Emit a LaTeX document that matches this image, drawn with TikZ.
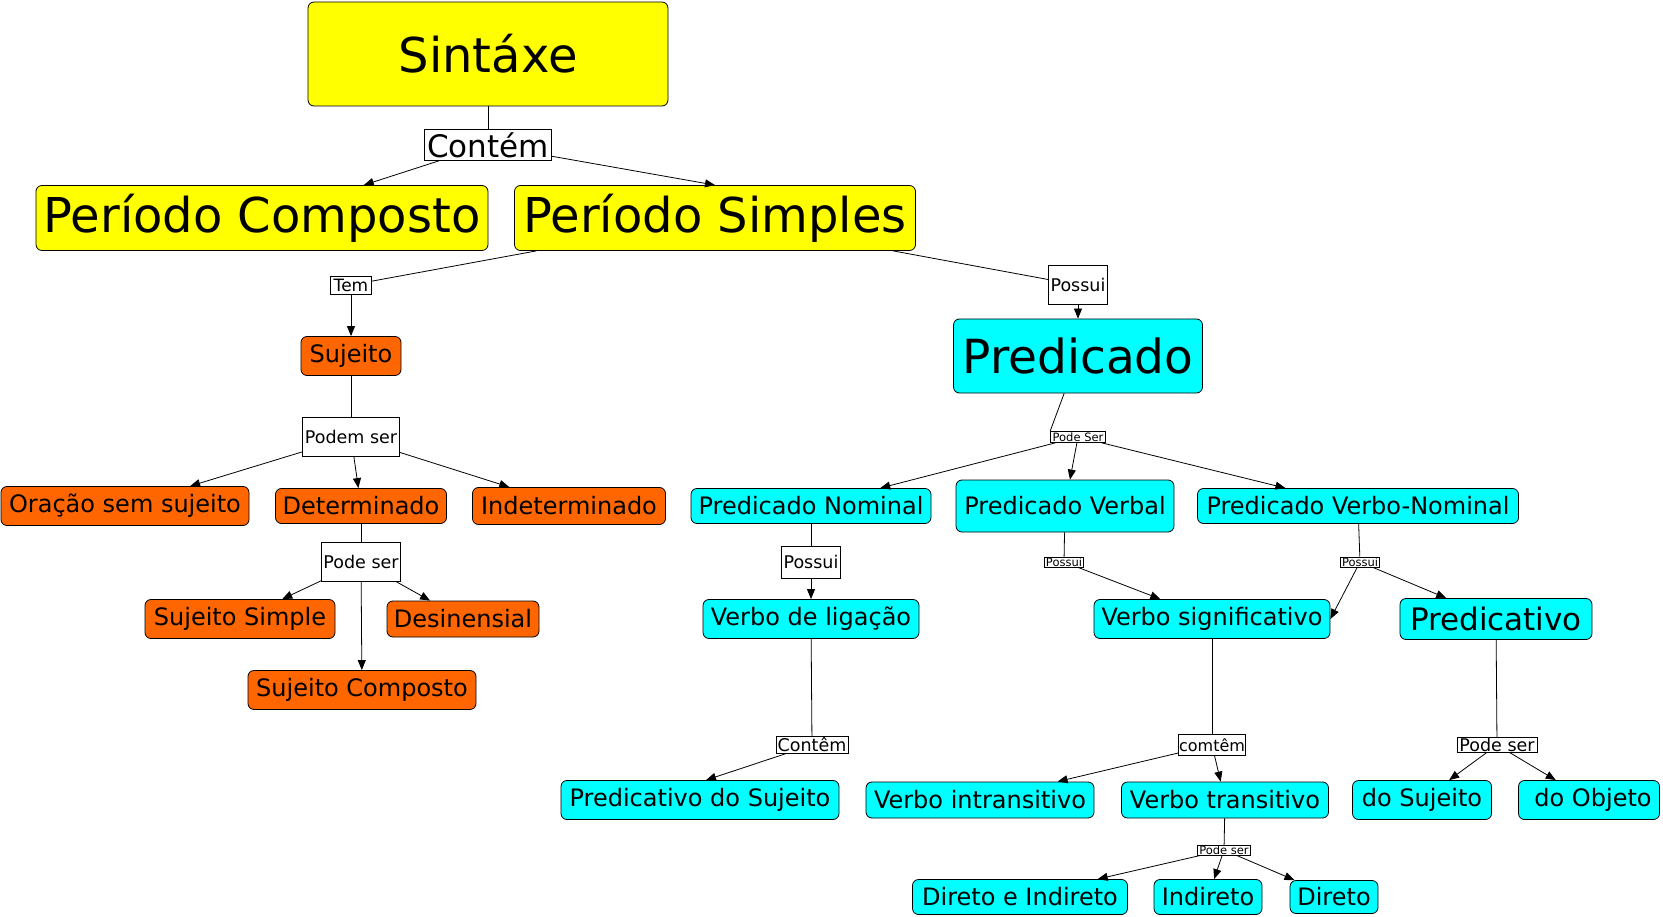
\documentclass[tikz,border=0pt]{standalone}
\usepackage{fontspec}
\setmainfont{DejaVu Sans}
\usetikzlibrary{arrows.meta}
\definecolor{orng}{HTML}{FF6600}
\definecolor{cyn}{HTML}{00FFFF}
\definecolor{yel}{HTML}{FFFF00}
\newcommand\setfs[1]{\fontsize{#1}{#1}\selectfont}
\begin{document}
\begin{tikzpicture}[x=1pt,y=-1pt,
  box/.style={draw, rounded corners=6pt, inner sep=0pt, line width=0.8pt, align=center},
  yelbox/.style={box, fill=yel},
  orgbox/.style={box, fill=orng},
  cynbox/.style={box, fill=cyn},
  lbl/.style={draw, fill=white, inner sep=0pt, line width=0.7pt},
  sz/.style 2 args={minimum width=#1pt, minimum height=#2pt},
  big/.style={font=\setfs{24}},
  lab/.style={font=\setfs{17.5}},
  tiny/.style={font=\setfs{11.5}},
  con/.style={line width=0.8pt},
  arr/.style={con, -{Triangle[length=10pt,width=8pt]}}
]
\useasboundingbox (0,0) rectangle (1663,917);
% yellow
\node[yelbox, sz={360}{104}, font=\setfs{48}] (sint) at (488,54) {Sintáxe};
\node[lbl, sz={127}{31}, font=\setfs{31}] (contem) at (488,145) {Contém};
\node[yelbox, sz={452}{65}, font=\setfs{48}] (pc) at (262,218) {Período Composto};
\node[yelbox, sz={401}{65}, font=\setfs{48}] (ps) at (715,218) {Período Simples};
% orange branch
\node[lbl, sz={41}{18}, font=\setfs{17}] (tem) at (351,285) {Tem};
\node[orgbox, big, sz={100}{39}] (suj) at (351,356) {Sujeito};
\node[lbl, lab, sz={97}{39}] (podem) at (351,437) {Podem ser};
\node[orgbox, big, sz={248}{39}] (oss) at (125,506) {Oração sem sujeito};
\node[orgbox, big, sz={171}{35}] (det) at (361,506) {Determinado};
\node[orgbox, big, sz={193}{37}] (indet) at (569,506) {Indeterminado};
\node[lbl, lab, sz={79}{39}] (podeser1) at (361,562) {Pode ser};
\node[orgbox, big, sz={190}{39}] (ss) at (240,619) {Sujeito Simple};
\node[orgbox, big, sz={152}{36}] (des) at (463,619) {Desinensial};
\node[orgbox, big, sz={228}{39}] (sc) at (362,690) {Sujeito Composto};
% cyan branch
\node[lbl, lab, sz={59}{39}] (possui1) at (1078,285) {Possui};
\node[cynbox, sz={249}{74}, font=\setfs{47}] (pred) at (1078,356) {Predicado};
\node[lbl, tiny, sz={55}{11}] (podeSer2) at (1078,437) {Pode Ser};
\node[cynbox, big, sz={240}{35}] (pn) at (811,506) {Predicado Nominal};
\node[cynbox, big, sz={218}{52}] (pv) at (1065,506) {Predicado Verbal};
\node[cynbox, big, sz={321}{35}] (pvn) at (1358,506) {Predicado Verbo-Nominal};
\node[lbl, lab, sz={59}{32}] (possui2) at (811,562) {Possui};
\node[lbl, tiny, sz={39}{10}] (possui3) at (1064,562) {Possui};
\node[lbl, tiny, sz={39}{10}] (possui4) at (1360,562) {Possui};
\node[cynbox, big, sz={216}{39}] (vl) at (811,619) {Verbo de ligação};
\node[cynbox, big, sz={236}{39}] (vs) at (1212,619) {Verbo significativo};
\node[cynbox, sz={192}{41}, font=\setfs{31}] (predv) at (1496,619) {Predicativo};
\node[lbl, lab, sz={72}{17}] (contem2) at (812,745) {Contêm};
\node[lbl, sz={67}{21}, font=\setfs{16}] (comtem) at (1212,745) {comtêm};
\node[lbl, lab, sz={80}{15}] (podeser3) at (1497,745) {Pode ser};
\node[cynbox, big, sz={278}{39}] (psuj) at (700,800) {Predicativo do Sujeito};
\node[cynbox, big, sz={228}{36}] (vi) at (980,800) {Verbo intransitivo};
\node[cynbox, big, sz={207}{36}] (vt) at (1225,800) {Verbo transitivo};
\node[cynbox, big, sz={139}{39}] (dosuj) at (1422,800) {do Sujeito};
\node[cynbox, big, sz={141}{39}] (doobj) at (1589,800) {\hspace{8pt}do Objeto};
\node[lbl, tiny, sz={53}{10}] (podeser4) at (1224,850) {Pode ser};
\node[cynbox, big, sz={215}{35}] (dei) at (1020,897) {Direto e Indireto};
\node[cynbox, big, sz={108}{35}] (ind) at (1208,897) {Indireto};
\node[cynbox, big, sz={88}{33}] (dir) at (1334,897) {Direto};
% connectors
\draw[con] (sint) -- (contem);
\draw[arr] (contem) -- (pc);
\draw[arr] (contem) -- (ps.north);
\draw[con] (ps) -- (tem);
\draw[arr] (tem) -- (suj);
\draw[con] (ps) -- (possui1);
\draw[arr] (possui1) -- (pred);
\draw[con] (suj) -- (podem);
\draw[arr] (podem) -- (oss);
\draw[arr] (podem) -- (det);
\draw[arr] (podem) -- (indet);
\draw[con] (det) -- (podeser1);
\draw[arr] (podeser1) -- (ss);
\draw[arr] (podeser1) -- (sc);
\draw[arr] (podeser1) -- (des);
\draw[con] (pred) -- (podeSer2.north west);
\draw[arr] (podeSer2) -- (pn);
\draw[arr] (podeSer2) -- (pv);
\draw[arr] (podeSer2) -- (pvn);
\draw[con] (pn) -- (possui2);
\draw[arr] (possui2) -- (vl);
\draw[con] (pv) -- (possui3);
\draw[arr] (possui3) -- (vs);
\draw[con] (pvn) -- (possui4);
\draw[arr] (possui4) -- (vs.east);
\draw[arr] (possui4) -- (predv);
\draw[con] (vl) -- (contem2);
\draw[arr] (contem2) -- ([xshift=6pt]psuj.north);
\draw[con] (vs) -- (comtem);
\draw[arr] (comtem) -- (vi);
\draw[arr] (comtem) -- (vt);
\draw[con] (predv) -- (podeser3);
\draw[arr] (podeser3) -- (dosuj);
\draw[arr] (podeser3) -- (doobj);
\draw[con] (vt) -- (podeser4);
\draw[arr] (podeser4) -- (dei);
\draw[arr] (podeser4) -- (ind);
\draw[arr] (podeser4) -- (dir);
\end{tikzpicture}
\end{document}
